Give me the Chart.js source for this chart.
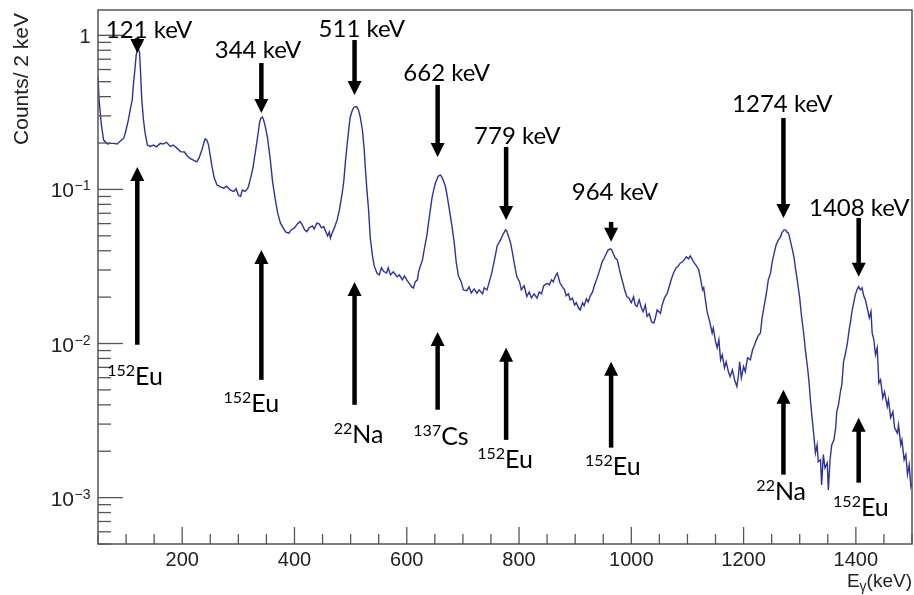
<!DOCTYPE html>
<html><head><meta charset="utf-8">
<script src="https://cdn.jsdelivr.net/npm/chart.js@4.4.1/dist/chart.umd.min.js"></script>
<style>html,body{margin:0;padding:0;background:#fff;}#wrap{width:914px;height:595px;position:relative;}</style>
</head><body><div id="wrap"><canvas id="c" width="914" height="595"></canvas></div>
<script>
// ---- data ----
const energy = [50,52,56,60,67,72,78,84,90,96,100,104,108,111,113,116,118,121,124,126,128,131,134,138,143,149,154,161,166,172,179,184,190,197,204,209,214,220,226,230,235,239,241,244,247,250,253,257,262,268,274,279,286,292,296,300,304,307,312,317,321,326,330,333,336,338,340,343,345,348,352,357,361,366,370,375,380,384,390,394,400,405,410,414,418,422,426,432,435,440,444,448,452,456,459,462,464,467,471,476,480,485,488,491,494,497,499,502,505,508,511,514,517,521,524,526,529,532,535,539,542,547,551,555,559,564,567,571,576,583,587,592,596,600,605,609,612,615,619,621,624,628,631,636,639,642,645,648,651,654,656,660,662,665,669,672,676,681,685,688,692,697,701,707,711,715,720,725,729,735,738,743,747,751,755,758,761,767,770,773,776,778,781,785,788,792,796,801,804,809,814,818,822,827,832,836,840,844,850,854,858,861,865,868,870,873,877,881,884,888,891,895,899,902,906,909,913,916,920,923,927,931,934,938,941,945,948,952,956,959,963,965,968,971,975,979,982,986,988,992,996,1000,1004,1007,1010,1014,1018,1021,1025,1028,1032,1036,1040,1043,1046,1052,1055,1059,1064,1068,1071,1075,1080,1084,1087,1091,1094,1098,1102,1105,1109,1112,1116,1120,1123,1127,1129,1132,1135,1139,1144,1146,1150,1153,1156,1159,1162,1166,1169,1173,1176,1180,1184,1188,1191,1193,1196,1200,1203,1207,1212,1216,1219,1223,1226,1230,1233,1237,1241,1244,1248,1251,1255,1258,1262,1266,1268,1272,1275,1277,1280,1283,1287,1290,1292,1296,1300,1303,1307,1310,1314,1317,1319,1322,1325,1328,1331,1333,1337,1339,1342,1345,1349,1351,1354,1357,1361,1364,1366,1369,1373,1375,1378,1381,1385,1388,1391,1393,1396,1399,1402,1405,1408,1411,1414,1417,1421,1424,1427,1429,1432,1435,1438,1441,1444,1448,1451,1456,1458,1462,1466,1469,1474,1476,1480,1482,1486,1489,1492,1495,1498,1500];
const counts = [0.545,0.380,0.262,0.209,0.197,0.199,0.199,0.197,0.206,0.215,0.243,0.282,0.338,0.381,0.476,0.614,0.745,0.827,0.779,0.553,0.381,0.282,0.231,0.194,0.190,0.194,0.189,0.199,0.197,0.202,0.190,0.194,0.186,0.176,0.175,0.165,0.159,0.155,0.151,0.160,0.180,0.203,0.213,0.209,0.194,0.165,0.141,0.119,0.107,0.104,0.102,0.105,0.099,0.097,0.101,0.092,0.090,0.099,0.097,0.102,0.115,0.138,0.172,0.203,0.243,0.274,0.290,0.295,0.282,0.256,0.216,0.155,0.112,0.0855,0.0704,0.0604,0.0563,0.0530,0.0520,0.0546,0.0563,0.0597,0.0618,0.0589,0.0546,0.0532,0.0563,0.0580,0.0554,0.0604,0.0597,0.0563,0.0574,0.0530,0.0499,0.0530,0.0483,0.0522,0.0563,0.0634,0.0736,0.0945,0.115,0.155,0.199,0.251,0.291,0.318,0.338,0.344,0.344,0.328,0.297,0.243,0.186,0.141,0.0993,0.0736,0.0485,0.0370,0.0319,0.0286,0.0279,0.0310,0.0293,0.0287,0.0310,0.0279,0.0292,0.0271,0.0279,0.0259,0.0275,0.0259,0.0244,0.0233,0.0229,0.0251,0.0259,0.0292,0.0316,0.0349,0.0405,0.0507,0.0615,0.0736,0.0881,0.0993,0.110,0.117,0.122,0.124,0.121,0.115,0.104,0.0908,0.0736,0.0563,0.0437,0.0339,0.0275,0.0251,0.0223,0.0220,0.0233,0.0213,0.0226,0.0212,0.0223,0.0210,0.0230,0.0223,0.0251,0.0283,0.0332,0.0376,0.0430,0.0470,0.0499,0.0522,0.0546,0.0538,0.0499,0.0448,0.0393,0.0324,0.0272,0.0251,0.0223,0.0237,0.0202,0.0216,0.0198,0.0210,0.0197,0.0216,0.0210,0.0237,0.0246,0.0240,0.0259,0.0251,0.0275,0.0286,0.0271,0.0247,0.0234,0.0223,0.0204,0.0210,0.0192,0.0197,0.0178,0.0184,0.0170,0.0165,0.0184,0.0176,0.0195,0.0186,0.0204,0.0216,0.0237,0.0259,0.0279,0.0310,0.0339,0.0360,0.0388,0.0405,0.0411,0.0405,0.0382,0.0360,0.0349,0.0301,0.0271,0.0240,0.0223,0.0202,0.0197,0.0184,0.0201,0.0178,0.0174,0.0192,0.0170,0.0161,0.0178,0.0150,0.0156,0.0138,0.0136,0.0147,0.0165,0.0157,0.0178,0.0197,0.0212,0.0237,0.0259,0.0286,0.0310,0.0319,0.0332,0.0339,0.0349,0.0365,0.0354,0.0370,0.0349,0.0334,0.0319,0.0301,0.0267,0.0223,0.0230,0.0192,0.0161,0.0142,0.0117,0.0126,0.0103,0.00938,0.0106,0.00784,0.00845,0.00696,0.00761,0.00655,0.00610,0.00675,0.00581,0.00526,0.00627,0.00761,0.00599,0.00709,0.00655,0.00808,0.00784,0.00910,0.00966,0.0106,0.0112,0.0117,0.0147,0.0178,0.0216,0.0259,0.0286,0.0339,0.0393,0.0437,0.0470,0.0494,0.0522,0.0546,0.0546,0.0530,0.0520,0.0470,0.0405,0.0360,0.0316,0.0251,0.0197,0.0153,0.0117,0.00910,0.00696,0.00540,0.00431,0.00330,0.00256,0.00195,0.00220,0.00171,0.00176,0.00121,0.00190,0.00156,0.00168,0.00112,0.00176,0.00220,0.00237,0.00284,0.00361,0.00400,0.00501,0.00540,0.00761,0.00845,0.0101,0.0123,0.0142,0.0161,0.0183,0.0207,0.0223,0.0234,0.0223,0.0230,0.0204,0.0192,0.0165,0.0147,0.0161,0.0117,0.0106,0.00845,0.00938,0.00554,0.00581,0.00444,0.00486,0.00390,0.00431,0.00330,0.00361,0.00284,0.00262,0.00297,0.00220,0.00237,0.00176,0.00190,0.00141,0.00163,0.00118,0.00125];

const xMajorTicks = [200,400,600,800,1000,1200,1400];
const yMajorTicks = [0.001,0.01,0.1,1];
const yTickExponents = ['\u22123','\u22122','\u22121',''];

const peakLabels = ['121 keV','344 keV','511 keV','662 keV','779 keV','964 keV','1274 keV','1408 keV'];
const isotopeMass = ['152','152','22','137','152','152','22','152'];
const isotopeName = ['Eu','Eu','Na','Cs','Eu','Eu','Na','Eu'];

// annotation placement, in data units (keV, counts)
const arrowEnergy   = [120,341,507,655,777,964,1271,1405];
const downArrowFrom = [0.960,0.661,0.932,0.476,0.1887,0.0615,0.291,0.0653];
const downArrowTip  = [0.768,0.313,0.410,0.1625,0.0634,0.0457,0.0653,0.0271];
const peakLabelE    = [141,335,520,671,797,971,1269,1406];
const peakLabelY    = [0.960,0.712,0.975,0.505,0.197,0.0855,0.318,0.0673];
const upArrowTip    = [0.140,0.0405,0.0251,0.0119,0.00938,0.00761,0.00501,0.00330];
const upArrowFrom   = [0.0098,0.00581,0.00400,0.00372,0.00237,0.00211,0.00141,0.00125];
const isoLabelE     = [116,323,514,661,775,967,1267,1409];
const isoLabelY     = [0.0054,0.00361,0.00227,0.00220,0.00156,0.00141,0.000968,0.000763];

const AX_FONT = '"Liberation Sans", Arial, sans-serif';
const AN_FONT = 'Lato, "Open Sans", sans-serif';

function arrow(ctx, x, y0, y1) {
  const dir = y1 > y0 ? 1 : -1, head = 14, hw = 7;
  ctx.beginPath();
  ctx.moveTo(x, y0);
  ctx.lineTo(x, y1 - dir * (head - 1));
  ctx.lineWidth = 4.5; ctx.strokeStyle = '#000'; ctx.stroke();
  ctx.beginPath();
  ctx.moveTo(x, y1);
  ctx.lineTo(x - hw, y1 - dir * head);
  ctx.lineTo(x + hw, y1 - dir * head);
  ctx.closePath(); ctx.fillStyle = '#000'; ctx.fill();
}

const decor = {
  id: 'decor',
  afterDatasetsDraw(chart) {
    const ctx = chart.ctx, a = chart.chartArea;
    const xs = chart.scales.x, ys = chart.scales.y;
    ctx.save();
    // frame
    ctx.strokeStyle = '#555'; ctx.lineWidth = 1.5;
    ctx.strokeRect(a.left, a.top, a.right - a.left, a.bottom - a.top);
    // x ticks (inward)
    ctx.lineWidth = 1.3;
    for (let v = 50; v <= 1500; v += 50) {
      const px = xs.getPixelForValue(v);
      const len = (v % 200 === 0) ? 17 : 10;
      ctx.beginPath(); ctx.moveTo(px, a.bottom); ctx.lineTo(px, a.bottom - len); ctx.stroke();
    }
    // y ticks (inward)
    for (let d = -4; d <= 0; d++) {
      for (let m = 1; m <= 9; m++) {
        const v = m * Math.pow(10, d);
        if (v < ys.min * 0.999 || v > ys.max) continue;
        const py = ys.getPixelForValue(v);
        const len = (m === 1) ? 25 : 13;
        ctx.beginPath(); ctx.moveTo(a.left, py); ctx.lineTo(a.left + len, py); ctx.stroke();
      }
    }
    // y tick labels
    ctx.fillStyle = '#222'; ctx.textBaseline = 'alphabetic';
    yMajorTicks.forEach((v, i) => {
      const py = ys.getPixelForValue(v);
      const xr = a.left - 7.5;
      const exp = yTickExponents[i];
      if (exp === '') {
        ctx.font = '20px ' + AX_FONT; ctx.textAlign = 'right';
        ctx.fillText('1', xr, py + 7.5);
      } else {
        ctx.font = '14px ' + AX_FONT;
        const ew = ctx.measureText(exp).width;
        ctx.textAlign = 'left';
        ctx.fillText(exp, xr - ew, py + 1);
        ctx.font = '21px ' + AX_FONT; ctx.textAlign = 'right';
        ctx.fillText('10', xr - ew - 0.5, py + 8);
      }
    });
    // x title  E_gamma (keV)
    ctx.font = '19px ' + AX_FONT;
    const t1 = '(keV)';
    const w1 = ctx.measureText(t1).width;
    ctx.font = '14px ' + AX_FONT;
    const wg = ctx.measureText('\u03b3').width;
    ctx.font = '19px ' + AX_FONT;
    const wE = ctx.measureText('E').width;
    let xr = a.right;
    ctx.textAlign = 'left';
    ctx.fillText(t1, xr - w1, 587);
    ctx.font = '14px ' + AX_FONT;
    ctx.fillText('\u03b3', xr - w1 - wg, 591);
    ctx.font = '19px ' + AX_FONT;
    ctx.fillText('E', xr - w1 - wg - wE, 587);
    // y title
    ctx.save();
    ctx.translate(27.5, 13);
    ctx.rotate(-Math.PI / 2);
    ctx.font = '21px ' + AX_FONT; ctx.textAlign = 'right'; ctx.textBaseline = 'alphabetic';
    ctx.fillText('Counts/ 2 keV', 0, 0);
    ctx.restore();
    // annotations
    for (let i = 0; i < peakLabels.length; i++) {
      const ax = xs.getPixelForValue(arrowEnergy[i]);
      arrow(ctx, ax, ys.getPixelForValue(downArrowFrom[i]), ys.getPixelForValue(downArrowTip[i]));
      arrow(ctx, ax, ys.getPixelForValue(upArrowFrom[i]), ys.getPixelForValue(upArrowTip[i]));
      ctx.fillStyle = '#000';
      ctx.font = '24px ' + AN_FONT; ctx.textAlign = 'center';
      ctx.fillText(peakLabels[i], xs.getPixelForValue(peakLabelE[i]), ys.getPixelForValue(peakLabelY[i]));
      // isotope label
      ctx.font = '16px ' + AN_FONT;
      const mw = ctx.measureText(isotopeMass[i]).width;
      ctx.font = '25px ' + AN_FONT;
      const nw = ctx.measureText(isotopeName[i]).width;
      const cx = xs.getPixelForValue(isoLabelE[i]);
      const by = ys.getPixelForValue(isoLabelY[i]);
      const x0 = cx - (mw + nw) / 2;
      ctx.textAlign = 'left';
      ctx.font = '16px ' + AN_FONT;
      ctx.fillText(isotopeMass[i], x0, by - 9);
      ctx.font = '25px ' + AN_FONT;
      ctx.fillText(isotopeName[i], x0 + mw, by);
    }
    ctx.restore();
  }
};

new Chart(document.getElementById('c'), {
  type: 'line',
  data: {
    datasets: [{
      data: energy.map((e, i) => ({x: e, y: counts[i]})),
      borderColor: '#2e3399',
      borderWidth: 1.4,
      pointRadius: 0,
      tension: 0,
      fill: false
    }]
  },
  options: {
    responsive: false,
    devicePixelRatio: 1,
    animation: false,
    layout: {padding: {left: 0, right: 2, top: 10, bottom: 0}},
    plugins: {legend: {display: false}, tooltip: {enabled: false}, title: {display: false}},
    scales: {
      x: {
        type: 'linear', min: 50, max: 1500,
        grid: {display: false, drawTicks: false},
        border: {display: false},
        afterBuildTicks: s => { s.ticks = xMajorTicks.map(v => ({value: v})); },
        afterFit: s => { s.height = 51; },
        ticks: {font: {family: AX_FONT, size: 20}, color: '#222', padding: 4, maxRotation: 0, autoSkip: false,
                callback: v => String(v)}
      },
      y: {
        type: 'logarithmic', min: 0.0005, max: 1.46,
        grid: {display: false, drawTicks: false},
        border: {display: false},
        afterBuildTicks: s => { s.ticks = yMajorTicks.map(v => ({value: v})); },
        afterFit: s => { s.width = 98; },
        ticks: {display: false}
      }
    }
  },
  plugins: [decor]
});
</script></body></html>
